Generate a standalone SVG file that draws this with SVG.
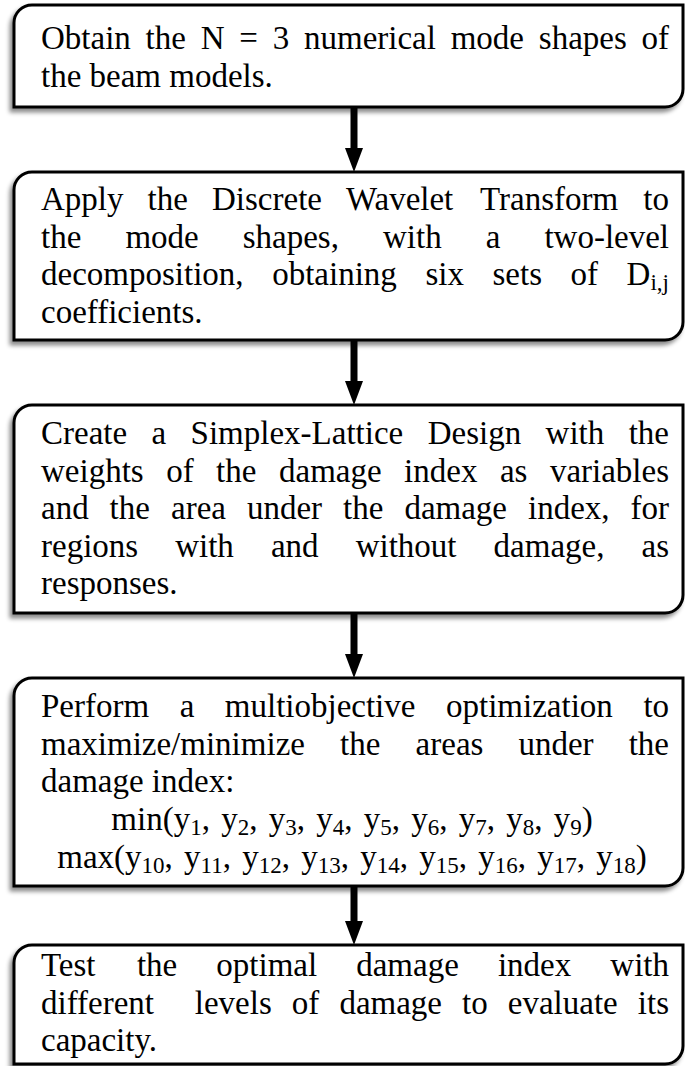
<svg xmlns="http://www.w3.org/2000/svg" width="685" height="1066" viewBox="0 0 685 1066">
<style>
.box{fill:#fff;stroke:#000;stroke-width:3;filter:url(#sh)}
.t{font-family:"Liberation Serif","Times New Roman",serif;font-size:33px;fill:#000}
.m{word-spacing:3px}
.sb{font-size:23px}
.arr{stroke:#000;stroke-width:7;fill:none;marker-end:url(#ah)}
</style>
<defs>
<filter id="sh" x="-5%" y="-10%" width="110%" height="130%">
<feDropShadow dx="-3" dy="4" stdDeviation="2" flood-color="#000" flood-opacity="0.45"/>
</filter>
<marker id="ah" viewBox="0 0 24 18" refX="2" refY="9" markerWidth="24" markerHeight="18" markerUnits="userSpaceOnUse" orient="auto">
<path d="M0,0 L24,9 L0,18 Z" fill="#000"/>
</marker>
</defs>

<g id="n1">
<path class="box" d="M14,107 L14,23 A18,18 0 0 1 32,5 L683,5 L683,89 A18,18 0 0 1 665,107 Z"/>
<text class="t" y="49"><tspan x="41">Obtain</tspan><tspan x="145.6">the</tspan><tspan x="200.7">N</tspan><tspan x="239.3">=</tspan><tspan x="272.7">3</tspan><tspan x="304">numerical</tspan><tspan x="450.7">mode</tspan><tspan x="538.8">shapes</tspan><tspan x="641.5">of</tspan></text>
<text class="t" x="41" y="87">the beam models.</text>
</g>

<g id="n2">
<path class="box" d="M14,340 L14,190 A18,18 0 0 1 32,172 L683,172 L683,322 A18,18 0 0 1 665,340 Z"/>
<text class="t" y="210"><tspan x="41">Apply</tspan><tspan x="147.6">the</tspan><tspan x="212">Discrete</tspan><tspan x="346">Wavelet</tspan><tspan x="480">Transform</tspan><tspan x="643.3">to</tspan></text>
<text class="t" y="247.5"><tspan x="41">the</tspan><tspan x="125.4">mode</tspan><tspan x="242.7">shapes,</tspan><tspan x="383">with</tspan><tspan x="485.7">a</tspan><tspan x="544.4">two-level</tspan></text>
<text class="t" y="285"><tspan x="41">decomposition,</tspan><tspan x="272.2">obtaining</tspan><tspan x="425.4">six</tspan><tspan x="492.5">sets</tspan><tspan x="570.5">of</tspan><tspan x="626.6">D</tspan><tspan class="sb" dy="5">i,j</tspan></text>
<text class="t" x="41" y="322.5">coefficients.</text>
</g>

<g id="n3">
<path class="box" d="M14,613 L14,423 A18,18 0 0 1 32,405 L683,405 L683,595 A18,18 0 0 1 665,613 Z"/>
<text class="t" y="444"><tspan x="41">Create</tspan><tspan x="151.6">a</tspan><tspan x="190.6">Simplex-Lattice</tspan><tspan x="427.7">Design</tspan><tspan x="545.6">with</tspan><tspan x="628.7">the</tspan></text>
<text class="t" y="481.5"><tspan x="41">weights</tspan><tspan x="166.2">of</tspan><tspan x="216.1">the</tspan><tspan x="279">damage</tspan><tspan x="404.1">index</tspan><tspan x="499.9">as</tspan><tspan x="549.9">variables</tspan></text>
<text class="t" y="519"><tspan x="41">and</tspan><tspan x="109.6">the</tspan><tspan x="171">area</tspan><tspan x="246.9">under</tspan><tspan x="343">the</tspan><tspan x="404.4">damage</tspan><tspan x="528">index,</tspan><tspan x="630.5">for</tspan></text>
<text class="t" y="556.5"><tspan x="41">regions</tspan><tspan x="175.2">with</tspan><tspan x="270.9">and</tspan><tspan x="355.7">without</tspan><tspan x="493.6">damage,</tspan><tspan x="641.5">as</tspan></text>
<text class="t" x="41" y="594">responses.</text>
</g>

<g id="n4">
<path class="box" d="M14,886 L14,696 A18,18 0 0 1 32,678 L683,678 L683,868 A18,18 0 0 1 665,886 Z"/>
<text class="t" y="717"><tspan x="41">Perform</tspan><tspan x="179.7">a</tspan><tspan x="224.8">multiobjective</tspan><tspan x="446">optimization</tspan><tspan x="643.4">to</tspan></text>
<text class="t" y="754.5"><tspan x="41">maximize/minimize</tspan><tspan x="340.1">the</tspan><tspan x="415.6">areas</tspan><tspan x="518.4">under</tspan><tspan x="628.7">the</tspan></text>
<text class="t" x="41" y="792">damage index:</text>
<text class="t m" x="352" y="830" text-anchor="middle">min(y<tspan class="sb" dy="5">1</tspan><tspan dy="-5">, y</tspan><tspan class="sb" dy="5">2</tspan><tspan dy="-5">, y</tspan><tspan class="sb" dy="5">3</tspan><tspan dy="-5">, y</tspan><tspan class="sb" dy="5">4</tspan><tspan dy="-5">, y</tspan><tspan class="sb" dy="5">5</tspan><tspan dy="-5">, y</tspan><tspan class="sb" dy="5">6</tspan><tspan dy="-5">, y</tspan><tspan class="sb" dy="5">7</tspan><tspan dy="-5">, y</tspan><tspan class="sb" dy="5">8</tspan><tspan dy="-5">, y</tspan><tspan class="sb" dy="5">9</tspan><tspan dy="-5">)</tspan></text>
<text class="t m" x="352" y="867.5" text-anchor="middle">max(y<tspan class="sb" dy="5">10</tspan><tspan dy="-5">, y</tspan><tspan class="sb" dy="5">11</tspan><tspan dy="-5">, y</tspan><tspan class="sb" dy="5">12</tspan><tspan dy="-5">, y</tspan><tspan class="sb" dy="5">13</tspan><tspan dy="-5">, y</tspan><tspan class="sb" dy="5">14</tspan><tspan dy="-5">, y</tspan><tspan class="sb" dy="5">15</tspan><tspan dy="-5">, y</tspan><tspan class="sb" dy="5">16</tspan><tspan dy="-5">, y</tspan><tspan class="sb" dy="5">17</tspan><tspan dy="-5">, y</tspan><tspan class="sb" dy="5">18</tspan><tspan dy="-5">)</tspan></text>
</g>

<g id="n5">
<path class="box" d="M14,1064 L14,963 A18,18 0 0 1 32,945 L683,945 L683,1046 A18,18 0 0 1 665,1064 Z"/>
<text class="t" y="976"><tspan x="41">Test</tspan><tspan x="136.9">the</tspan><tspan x="216.3">optimal</tspan><tspan x="356.2">damage</tspan><tspan x="497.9">index</tspan><tspan x="610.3">with</tspan></text>
<text class="t" y="1013.5"><tspan x="41">different</tspan><tspan x="194.8">levels</tspan><tspan x="291.8">of</tspan><tspan x="339.4">damage</tspan><tspan x="462">to</tspan><tspan x="507.8">evaluate</tspan><tspan x="637.8">its</tspan></text>
<text class="t" x="41" y="1051">capacity.</text>
</g>

<g id="connectors">
<line class="arr" x1="354" y1="107" x2="354" y2="150"/>
<line class="arr" x1="354" y1="340" x2="354" y2="383"/>
<line class="arr" x1="354" y1="613" x2="354" y2="656"/>
<line class="arr" x1="354" y1="886" x2="354" y2="923"/>
</g>
</svg>
